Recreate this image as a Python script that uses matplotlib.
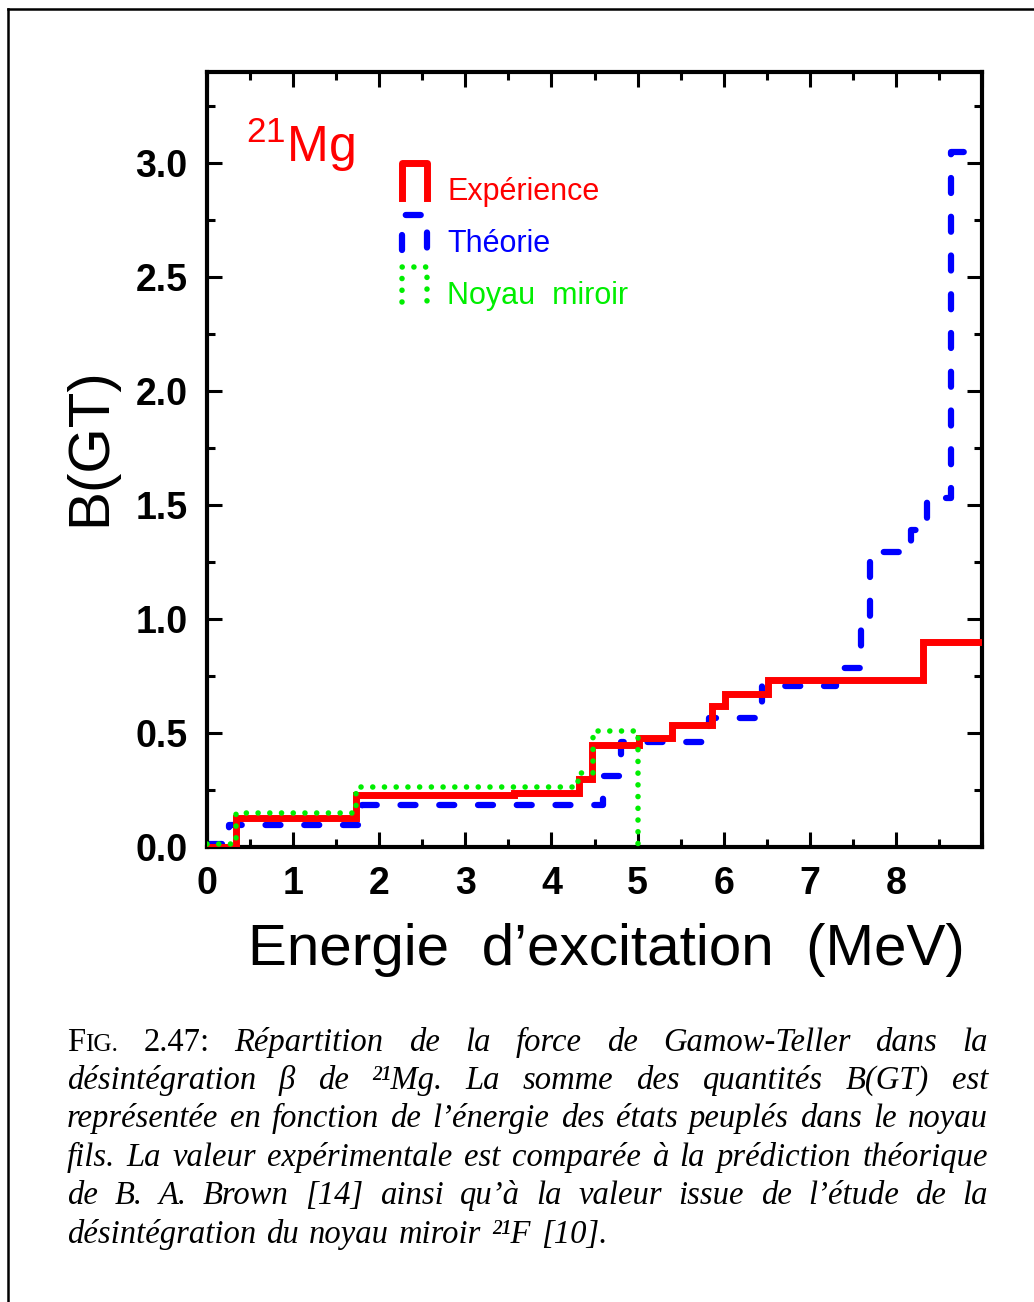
import matplotlib
matplotlib.use("Agg")
import matplotlib.pyplot as plt
from matplotlib.lines import Line2D
from matplotlib.ticker import MultipleLocator, FixedLocator

# cumulative B(GT) steps
exp_x = [0, 0.34, 1.73, 3.56, 4.32, 4.47, 5.02, 5.40, 5.87, 6.02, 6.51, 8.32, 9.0]
exp_y = [0, 0.127, 0.228, 0.237, 0.30, 0.447, 0.48, 0.535, 0.617, 0.671, 0.732, 0.90, 0.90]

th_x = [0, 0.25, 1.80, 4.60, 4.81, 5.83, 6.45, 7.31, 7.59, 7.70, 8.17, 8.36, 8.64, 9.0]
th_y = [0.015, 0.096, 0.184, 0.31, 0.46, 0.566, 0.705, 0.785, 1.0, 1.295, 1.39, 1.53, 3.05, 3.05]

mir_x = [0, 0.34, 1.73, 4.31, 4.48, 5.01]
mir_y = [0.012, 0.15, 0.264, 0.324, 0.508, 0.0]

x_major = [0, 1, 2, 3, 4, 5, 6, 7, 8, 9]
x_labels = ["0", "1", "2", "3", "4", "5", "6", "7", "8", ""]
y_major = [0.0, 0.5, 1.0, 1.5, 2.0, 2.5, 3.0]
y_labels = ["0.0", "0.5", "1.0", "1.5", "2.0", "2.5", "3.0"]

legend_names = ["Expérience", "Théorie", "Noyau  miroir"]

caption = [
    ["FIG.", "2.47:", "Répartition", "de", "la", "force", "de", "Gamow-Teller", "dans", "la"],
    ["désintégration", "β", "de", "²¹Mg.", "La", "somme", "des", "quantités", "B(GT)", "est"],
    ["représentée", "en", "fonction", "de", "l’énergie", "des", "états", "peuplés", "dans", "le", "noyau"],
    ["fils.", "La", "valeur", "expérimentale", "est", "comparée", "à", "la", "prédiction", "théorique"],
    ["de", "B.", "A.", "Brown", "[14]", "ainsi", "qu’à", "la", "valeur", "issue", "de", "l’étude", "de", "la"],
    ["désintégration", "du", "noyau", "miroir", "²¹F", "[10]."],
]

W, H = 1034, 1302
plt.rcParams['font.family'] = ['Liberation Sans', 'DejaVu Sans']
plt.rcParams['mathtext.default'] = 'regular'

fig = plt.figure(figsize=(W / 100, H / 100), dpi=100)
ax = fig.add_axes([207 / W, 1 - 847 / H, 775 / W, 775 / H])

red, blue, green = "#ff0000", "#0000ff", "#00ee00"
ax.step(exp_x, exp_y, where="post", color=red, lw=5, solid_joinstyle="miter", zorder=3)
l_th, = ax.step(th_x, th_y, where="post", color=blue, lw=4.5, zorder=2)
l_th.set_dashes([2.4, 3.8])
l_th.set_dash_capstyle("round")
l_mir, = ax.step(mir_x, mir_y, where="post", color=green, lw=4.0, zorder=4)
l_mir.set_dashes([0.01, 2.1])
l_mir.set_dash_capstyle("round")

ax.set_xlim(0, 9)
ax.set_ylim(0, 3.4)
ax.xaxis.set_major_locator(FixedLocator(x_major))
ax.set_xticklabels(x_labels)
ax.xaxis.set_minor_locator(MultipleLocator(0.5))
ax.yaxis.set_major_locator(FixedLocator(y_major))
ax.set_yticklabels(y_labels)
ax.yaxis.set_minor_locator(MultipleLocator(0.25))
ax.tick_params(which="both", direction="in", top=True, right=True, width=2.2,
               labelsize=27, pad=14)
ax.tick_params(which="major", length=11)
ax.tick_params(which="minor", length=6)
for lab in ax.get_xticklabels() + ax.get_yticklabels():
    lab.set_fontweight("bold")
for s in ax.spines.values():
    s.set_linewidth(3)

# legend drawn by hand: little step symbols + coloured names
sym_styles = [dict(color=red, lw=5), dict(color=blue, lw=4.5), dict(color=green, lw=4.0)]
sym_bottom = [0.837, 0.770, 0.703]
for i in range(3):
    b = sym_bottom[i]
    ln, = ax.plot([0.251, 0.251, 0.284, 0.284], [b, b + 0.046, b + 0.046, b],
                  transform=ax.transAxes, **sym_styles[i])
    if i == 1:
        ln.set_dashes([2.4, 3.8])
        ln.set_dash_capstyle("round")
    if i == 2:
        ln.set_dashes([0.01, 2.1])
        ln.set_dash_capstyle("round")
    ax.text(0.310, b - 0.002, legend_names[i], transform=ax.transAxes, fontsize=22,
            color=sym_styles[i]["color"], va="baseline", ha="left")

ax.text(0.050, 0.884, r"$^{21}$Mg", transform=ax.transAxes, fontsize=36, color=red,
        va="baseline", ha="left")

fig.text(606 / W, 1 - 950 / H, "Energie  d’excitation  (MeV)", fontsize=42,
         ha="center", va="center")
fig.text(90 / W, 1 - 447 / H, "B(GT)", fontsize=42, rotation=90, ha="center", va="center")

# page frame
fig.add_artist(Line2D([8 / W, 1], [1 - 9 / H, 1 - 9 / H], color="black", lw=1.8))
fig.add_artist(Line2D([8 / W, 8 / W], [1 - 9 / H, 0], color="black", lw=1.8))

# justified caption
serif = ['Liberation Serif', 'DejaVu Serif']
cap_size = 23.5
renderer = fig.canvas.get_renderer()
baselines = [1051, 1089, 1127, 1166, 1204, 1243]
x0, x1 = 67, 988


def word_parts(w):
    if w == "FIG.":
        return [("F", cap_size, "normal"), ("IG.", cap_size * 0.78, "normal")]
    if w == "2.47:":
        return [(w, cap_size, "normal")]
    return [(w, cap_size, "italic")]


for li, words in enumerate(caption):
    yb = 1 - baselines[li] / H
    objs = []
    widths = []
    for w in words:
        parts = []
        wsum = 0
        for txt, sz, st in word_parts(w):
            t = fig.text(0, yb, txt, fontsize=sz, style=st, family=serif, va="baseline")
            tw = t.get_window_extent(renderer).width
            parts.append((t, wsum))
            wsum += tw
        objs.append(parts)
        widths.append(wsum)
    if li < len(caption) - 1:
        gap = (x1 - x0 - sum(widths)) / (len(words) - 1)
    else:
        gap = 10
    x = x0
    for parts, wsum in zip(objs, widths):
        for t, off in parts:
            t.set_x((x + off) / W)
        x += wsum + gap

fig.savefig("out.png", dpi=100)
